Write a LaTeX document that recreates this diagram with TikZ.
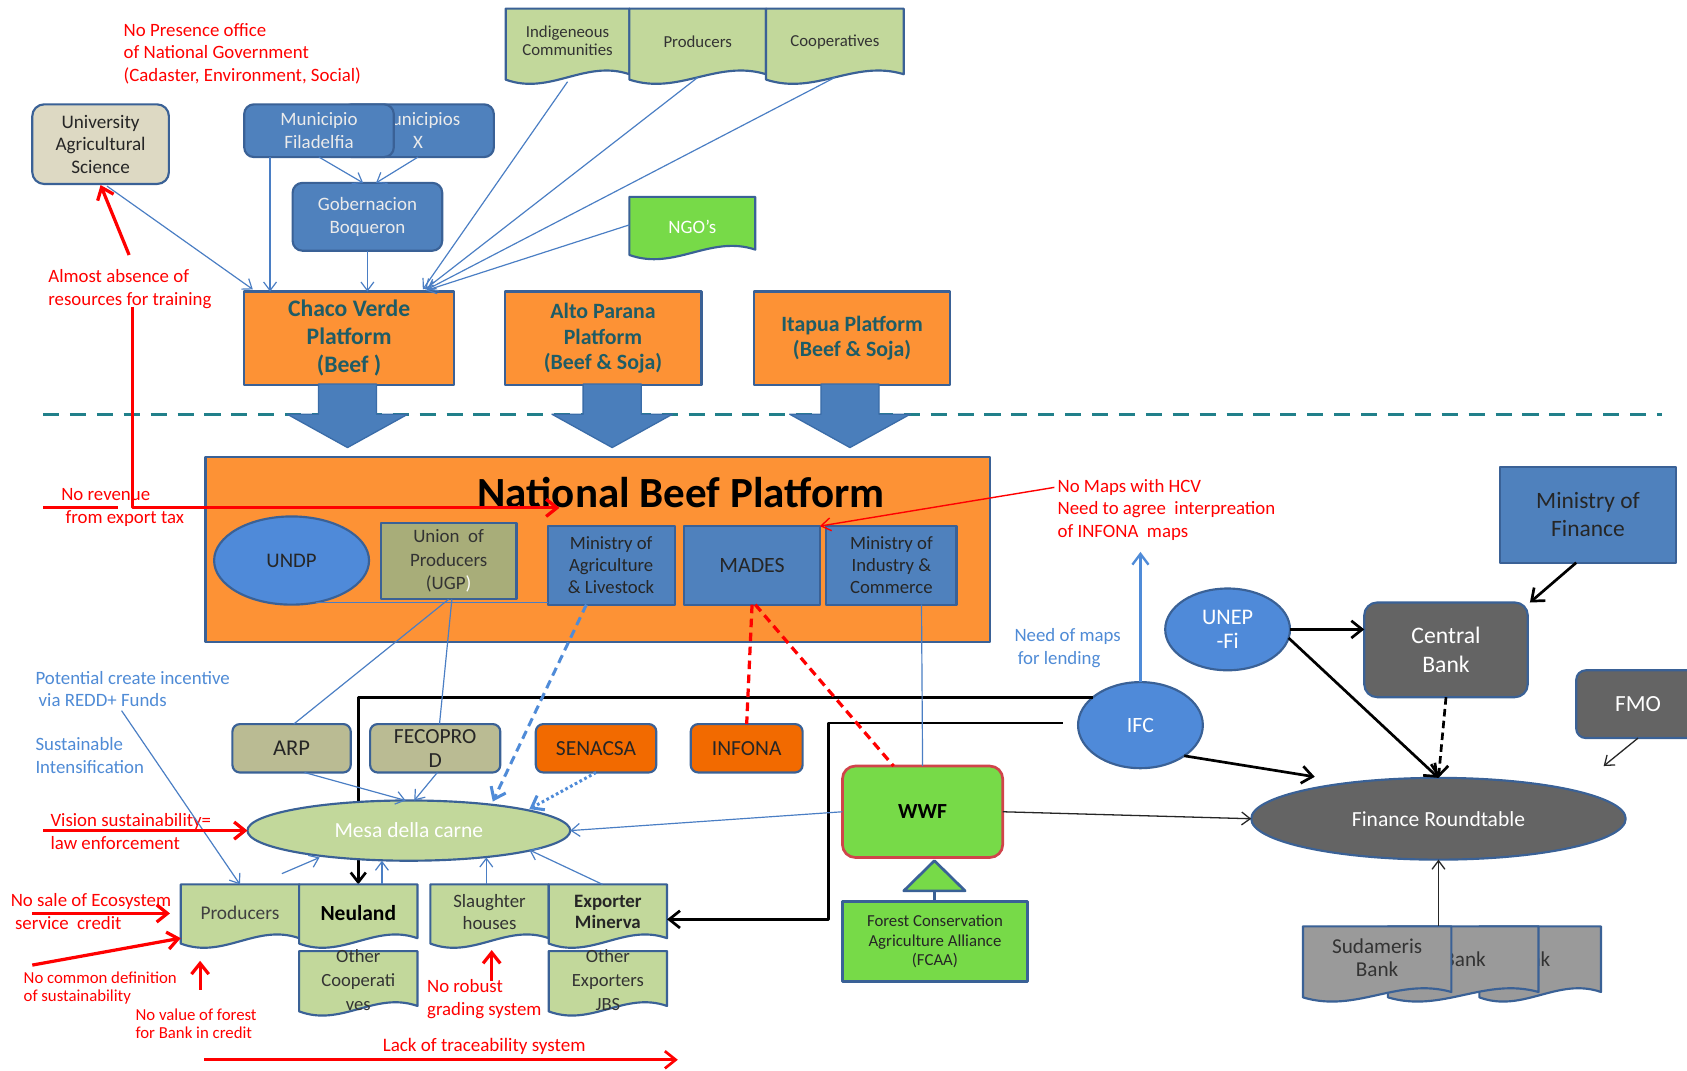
\documentclass[tikz,border=0pt]{standalone}
\usepackage{fontspec}
\setmainfont{Carlito}
\usetikzlibrary{arrows.meta,shapes.geometric,calc}
\definecolor{bdr}{HTML}{3A6196}
\definecolor{bboxf}{HTML}{4F81BD}
\definecolor{ellf}{HTML}{4F8AD9}
\definecolor{orgf}{HTML}{FD9235}
\definecolor{tealt}{HTML}{1E5C66}
\definecolor{docg}{HTML}{C2D89B}
\definecolor{ngog}{HTML}{77DA48}
\definecolor{olivef}{HTML}{A8AD79}
\definecolor{oliveg}{HTML}{BABB93}
\definecolor{senf}{HTML}{F26A00}
\definecolor{gry}{HTML}{646464}
\definecolor{lgry}{HTML}{9A9A9A}
\definecolor{rd}{HTML}{FF0000}
\definecolor{btxt}{HTML}{4F8BD6}
\definecolor{dashc}{HTML}{21808A}
\definecolor{beig}{HTML}{DDD9C3}
\definecolor{wwfb}{HTML}{D0444A}
\definecolor{bline}{HTML}{4A7EC4}
\definecolor{bline2}{HTML}{4F8BD8}
\definecolor{barrf}{HTML}{4A7EBB}
\definecolor{barrb}{HTML}{3A6CA8}
\newcommand\fsz[2]{\fontsize{#1}{#2}\selectfont}
\newcommand\docnode[8]{%
  \node[minimum width=#4, minimum height=#5] (#1) at (#2,#3) {};
  \filldraw[draw=bdr, line width=2, fill=#6]
    (#1.north west) -- (#1.north east) -- ($(#1.south east)+(0,-3)$)
    .. controls ($(#1.south)+({0.14*#4},-17)$) and ($(#1.south)+({-0.14*#4},17)$) .. ($(#1.south west)+(0,2)$) -- cycle;
  \node[#7] (#1t) at (#1) {#8};
}
\newcommand\blockarr[2]{%
  \filldraw[draw=barrb, fill=barrf, line width=1.2]
   ($(#1.south)+({#2-27},-1)$) -- ($(#1.south)+({#2+27},-1)$) -- ($(#1.south)+({#2+27},27)$) -- ($(#1.south)+({#2+56},27)$) -- ($(#1.south)+({#2},58)$) -- ($(#1.south)+({#2-56},27)$) -- ($(#1.south)+({#2-27},27)$) -- cycle;}
\begin{document}
\begin{tikzpicture}[x=1pt,y=-1pt, line join=round,
 every node/.style={inner sep=0pt,outer sep=0pt,align=center},
 rbox/.style={draw=bdr,line width=2,rounded corners=9},
 sbox/.style={draw=bdr,line width=2},
 ell/.style={ellipse,draw=bdr,line width=2},
 bl/.style={draw=bline,line width=1.1},
 bla/.style={bl,-{Straight Barb[length=8pt,width=12pt]}},
 rla/.style={draw=rd,line width=3,-{Straight Barb[length=10pt,width=16pt]}},
 kla/.style={draw=black,line width=2.5,-{Straight Barb[length=10pt,width=16pt]}},
 kthin/.style={draw=black!85,line width=1.2,-{Straight Barb[length=8pt,width=12pt]}},
 ann/.style={anchor=west,align=left,text=rd,font=\fsz{17.5}{21}},
 bann/.style={anchor=west,align=left,text=btxt,font=\fsz{17.5}{21}},
]
\useasboundingbox (0,0) rectangle (1568,995);
\fill[white] (0,0) rectangle (1568,995);

% ---------- top region ----------
\node[ann] (nopres) at (115,50) {No Presence office\\of National Government\\(Cadaster, Environment, Social)};
\node[rbox, rounded corners=11, fill=beig, minimum width=127, minimum height=74, font=\fsz{17.8}{21}, text=black!85] (univ) at (93.5,134) {University\\Agricultural\\Science};
\node[rbox, fill=bboxf, minimum width=141, minimum height=49, font=\fsz{17.6}{21}, text=white!92!black] (munx) at (388.5,121.5) {Municipios\\X};
\node[rbox, fill=bboxf, minimum width=139, minimum height=49, font=\fsz{17.6}{21}, text=white!92!black] (mun) at (296.5,121.5) {Municipio\\Filadelfia};
\node[rbox, fill=bboxf, minimum width=139, minimum height=63, font=\fsz{17.6}{21}, text=white!92!black] (gob) at (341.5,201.5) {Gobernacion\\Boqueron};

\docnode{indig}{527.5}{40}{115}{64}{docg}{font=\fsz{15.6}{17},text=black!80,yshift=2}{Indigeneous\\Communities}
\docnode{prodt}{648.5}{40}{127}{64}{docg}{font=\fsz{15.6}{17},text=black!80,yshift=1}{Producers}
\docnode{coop}{776}{40}{128}{64}{docg}{font=\fsz{15.6}{17},text=black!80,yshift=1}{Cooperatives}
\docnode{ngo}{643.5}{209}{117}{52}{ngog}{font=\fsz{17.6}{19},text=white,yshift=-2}{NGO’s}

\node[sbox, fill=orgf, minimum width=195, minimum height=87, font=\bfseries\fsz{22}{26}, text=tealt] (chaco) at (324.5,314.5) {Chaco Verde\\Platform\\(Beef )};
\node[sbox, fill=orgf, minimum width=183, minimum height=87, font=\bfseries\fsz{20.3}{23.5}, text=tealt] (alto) at (560.5,314.5) {Alto Parana\\Platform\\(Beef \& Soja)};
\node[sbox, fill=orgf, minimum width=182, minimum height=87, font=\bfseries\fsz{20.3}{23}, text=tealt] (itapua) at (792,314.5) {Itapua Platform\\(Beef \& Soja)};

% top connectors
\draw[bla] ($(univ.south)+(6,2)$) -- ($(chaco.north west)+(8,-2)$);
\draw[bla] ($(mun.south west)+(24,0)$) -- ($(chaco.north west)+(24,0)$);
\draw[bla] (gob.south) -- (gob.south |- chaco.north);
\draw[bla] (mun.south) -- ($(gob.north)+(-4,0)$);
\draw[bla] (munx.south) -- ($(gob.north)+(8,0)$);
\coordinate (cvin) at ($(chaco.north east)+(-29,-2)$);
\draw[bla] ($(indig.south)+(0,4)$) -- (cvin);
\draw[bla] (prodt.south) -- ($(cvin)+(2,0)$);
\draw[bla] (coop.south) -- ($(cvin)+(4,0)$);
\draw[bla] (ngo.west) -- ($(cvin)+(3,1)$);

% dashed separator and block arrows
\coordinate (dl0) at (40,385);
\coordinate (dl1) at (1545,385);
\draw[dashc, line width=3, dash pattern=on 15pt off 10pt] (dl0) -- (dl1);
\blockarr{chaco}{-1.5}
\blockarr{alto}{8.5}
\blockarr{itapua}{-2}

% ---------- national beef platform ----------
\node[sbox, fill=orgf, minimum width=729, minimum height=172] (nbp) at (555.5,511) {};
\node[font=\bfseries\fsz{40}{44}] (nbpt) at (633,458) {National Beef Platform};
\node[ell, fill=ellf, minimum width=144, minimum height=82, font=\fsz{19.3}{22}, text=black!85] (undp) at (271,521) {UNDP};
\node[sbox, fill=olivef, minimum width=126, minimum height=71, font=\fsz{17.6}{22}, text=black!80] (ugp) at (417,521.5) {Union~ of\\Producers\\(UGP\textcolor{white}{)}};
\node[sbox, fill=bboxf, minimum width=118, minimum height=73, font=\fsz{17.4}{20.5}, text=black!85] (minag) at (568,525.5) {Ministry of\\Agriculture\\\& Livestock};
\node[sbox, fill=bboxf, minimum width=126, minimum height=73, font=\fsz{20.3}{22}, text=black!85] (mades) at (699,525.5) {MADES};
\node[sbox, fill=bboxf, minimum width=121, minimum height=73, font=\fsz{17.4}{20.5}, text=black!85] (minind) at (828.5,525.5) {Ministry of\\Industry \&\\Commerce};
\draw[bl] (undp.-60) -- (undp.-60 -| minag.west);

% annotations left
\node[ann] (norev) at (57,471.5) {No revenue\\\hspace*{4pt}from export tax};
\node[ann] (almost) at (45,268.5) {Almost absence of\\resources for training};
\coordinate (rv0) at (123,285);
\coordinate (rv1) at (520,472);
\coordinate (rvl0) at (40,472);
\coordinate (rvl1) at (110,472);
\draw[draw=rd, line width=3] (rvl0) -- (rvl1);
\draw[rla] (rv0) |- (rv1);
\coordinate (al0) at (120,237);
\draw[rla] (al0) -- ($(univ.south)+(0,1)$);
\node[ann] (nomaps) at (983,474) {No Maps with HCV\\Need to agree~ interpreation\\of INFONA~ maps};
\draw[draw=rd, line width=1.3, -{Straight Barb[length=9pt,width=12pt]}] ($(nomaps.west)+(-3,-21)$) -- (mades.north east);

% ---------- right region ----------
\node[sbox, fill=bboxf, minimum width=164, minimum height=89, font=\fsz{21.8}{26}, text=black!85] (minfin) at (1476,478.5) {Ministry of\\Finance};
\node[ell, fill=ellf, minimum width=116, minimum height=76, font=\fsz{20.7}{22}, text=white] (unep) at (1141,585) {UNEP\\-Fi};
\node[rbox, rounded corners=12, fill=gry, minimum width=152, minimum height=88, font=\fsz{22}{27}, text=white] (central) at (1344,604) {Central\\Bank};
\node[rbox, fill=gry, minimum width=115, minimum height=63, font=\fsz{21.5}{22}, text=white] (fmo) at (1522.5,654.5) {FMO};
\node[ell, fill=ellf, minimum width=116, minimum height=80, font=\fsz{20.3}{22}, text=white] (ifc) at (1060,674) {IFC};
\node[bann] (needmaps) at (943,602.5) {Need of maps\\\hspace*{3pt}for lending};

% IFC black lines (under the nodes they pass)
\draw[draw=black, line width=2.5, -{Straight Barb[length=9pt,width=14pt]}] (ifc.150) -| ($(333,822)$) coordinate (neulin);
\coordinate (ifcl) at ($(ifc.west)+(-14,-2)$);

% ---------- middle region ----------
\node[rbox, rounded corners=7, fill=oliveg, minimum width=110, minimum height=45, font=\fsz{21}{22}, text=black!85] (arp) at (271,695.5) {ARP};
\node[rbox, rounded corners=7, fill=oliveg, minimum width=121, minimum height=45, font=\fsz{20}{22}, text=black!85] (fecop) at (404.5,695.5) {FECOPRO\\D};
\node[rbox, rounded corners=7, fill=senf, minimum width=112, minimum height=45, font=\fsz{20}{22}, text=black!85] (senacsa) at (554,695.5) {SENACSA};
\node[rbox, rounded corners=7, fill=senf, minimum width=104, minimum height=45, font=\fsz{20}{22}, text=black!85] (infona) at (694,695.5) {INFONA};
\node[draw=wwfb, line width=2.5, rounded corners=12, fill=ngog, minimum width=149, minimum height=85, font=\bfseries\fsz{20}{22}] (wwf) at (857.5,754.5) {WWF};
\node[sbox, line width=2.5, fill=ngog, minimum width=172, minimum height=74, font=\fsz{15.6}{18}, text=black!85] (fcaa) at (869,875) {Forest Conservation\\Agriculture Alliance\\(FCAA)};
\coordinate (trib) at (868.5,828);
\filldraw[draw=bdr, line width=2.5, fill=ngog] (840,828) -- (897,828) -- (868.5,800) -- cycle;
\draw[draw=bdr, line width=2.5] (fcaa.north -| trib) -- (trib);
\node[ell, fill=docg, minimum width=300, minimum height=56, font=\fsz{20}{22}, text=white] (mesa) at (380,772) {Mesa della carne};

\docnode{prodb}{223}{848.5}{110}{53}{docg}{font=\fsz{18}{20},text=black!75}{Producers}
\docnode{neul}{333}{848.5}{110}{53}{docg}{font=\bfseries\fsz{20}{22}}{Neuland}
\docnode{othc}{333}{911}{110}{54}{docg}{font=\fsz{17.3}{22},text=black!80}{Other\\Cooperati\\ves}
\docnode{slau}{455}{848.5}{110}{53}{docg}{font=\fsz{17.5}{20},text=black!80,yshift=1}{Slaughter\\houses}
\docnode{expm}{565}{848.5}{110}{53}{docg}{font=\bfseries\fsz{17.6}{20},text=black!85,yshift=1}{Exporter\\Minerva}
\docnode{othe}{565}{911}{110}{54}{docg}{font=\fsz{17.3}{22},text=black!80}{Other\\Exporters\\JBS}

% black line to Exporter Minerva
\draw[draw=black, line width=2.5, -{Straight Barb[length=10pt,width=16pt]}] (ifcl) -| ($(expm.east)+(150,6)$) -- ($(expm.east)+(0,6)$);

% finance roundtable and banks
\node[ell, fill=gry, minimum width=348, minimum height=76, font=\fsz{20}{22}, text=white] (frt) at (1337,761) {Finance Roundtable};
\docnode{sud3}{1431.5}{893}{113}{64}{lgry}{}{}
\node[font=\fsz{19.7}{22}, text=black!80, anchor=east] (sud3b) at (1441,892) {Bank};
\docnode{sud2}{1360}{893}{140}{64}{lgry}{}{}
\node[font=\fsz{19.7}{22}, text=black!80, anchor=east] (sud2b) at (1381,892) {Bank};
\docnode{sud1}{1280}{893}{138}{64}{lgry}{font=\fsz{19.7}{21},text=black!80,yshift=3}{Sudameris\\Bank}

% middle connectors
\draw[bl] (ugp.south) -- ($(arp.north)+(2,0)$);
\draw[bl] ($(ugp.south)+(3,0)$) -- ($(fecop.north)+(4,0)$);
\draw[bla] ($(arp.south)+(12,0)$) -- ($(mesa.north)+(-3,0)$);
\draw[bla] ($(fecop.south)+(2,0)$) -- ($(mesa.north)+(5,0)$);
\draw[draw=bline2, line width=2.8, dash pattern=on 8pt off 5pt, -{Straight Barb[length=10pt,width=15pt]}] ($(minag.south)+(-23,0)$) -- ($(mesa.north)+(78,1)$);
\draw[draw=bline2, line width=2.8, dash pattern=on 2.5pt off 2.5pt, -{Straight Barb[length=10pt,width=15pt]}] (senacsa.south) -- ($(mesa.north)+(112,8)$);
\draw[draw=rd, line width=3, dash pattern=on 8pt off 5pt] (mades.south) -- (infona.north);
\draw[draw=rd, line width=3, dash pattern=on 8pt off 5pt] ($(mades.south)+(3,0)$) -- ($(wwf.north)+(-27,0)$);
\draw[bl] ($(minind.south)+(28,0)$) -- (wwf.north);
\draw[bla] (wwf.west) -- (mesa.east);

% right connectors
\draw[draw=bline2, line width=2.2, -{Straight Barb[length=10pt,width=15pt]}] (ifc.north) -- ($(ifc.north)+(0,-121)$);
\draw[kla] (unep.east) -- (unep.east -| central.west);
\draw[kla] (unep.-8) -- (frt.north);
\draw[kla, dash pattern=on 7pt off 4pt] (central.south) -- (frt.north);
\draw[kla] ($(minfin.south)+(-11,0)$) -- ($(central.north east)+(2,0)$);
\draw[kthin] (fmo.south) -- ($(fmo.south)+(-32,26)$);
\draw[kla] (ifc.-35) -- ($(frt.west)+(59,-39)$);
\draw[kthin] (wwf.east) -- (frt.west);
\draw[kthin] (sud1.north -| frt.south) -- (frt.south);

% bottom-left annotations
\node[bann] (redd) at (33,640.5) {Potential create incentive\\\hspace*{3pt}via REDD+ Funds};
\node[bann] (sustint) at (33,702.5) {Sustainable\\Intensification};
\node[ann] (vision) at (47,773) {Vision sustainability=\\law enforcement};
\node[ann] (nosale) at (10,847) {No sale of Ecosystem\\\hspace*{4pt}service~ credit};
\node[ann, font=\fsz{15.6}{17}] (nocommon) at (22,918) {No common definition\\of sustainability};
\node[ann, font=\fsz{15.6}{17}] (novalue) at (126,951.5) {No value of forest\\for Bank in credit};
\node[ann] (norobust) at (397,928.5) {No robust\\grading system};
\node[text=rd, font=\fsz{17.7}{20}] (lack) at (450,973) {Lack of traceability system};

\draw[bla] ($(redd.west)+(80,20)$) -- (prodb.north);
\draw[bla] ($(prodb.north)+(39,-10)$) -- ($(mesa.south)+(-83,-3)$);
\draw[bla] ($(neul.north)+(22,0)$) -- ($(mesa.south)+(-25,0)$);
\draw[bla] ($(slau.north)+(-3,0)$) -- ($(mesa.south)+(72,-3)$);
\draw[bla] ($(expm.north)+(-5,0)$) -- ($(mesa.south)+(112,-10)$);

\draw[rla] ($(vision.west)+(-7,-1)$) -- (mesa.west);
\coordinate (ns0) at (30,849);
\draw[rla] (ns0) -- ($(prodb.west)+(-10,0.5)$);
\coordinate (nc0) at (30,897);
\draw[rla] (nc0) -- ($(prodb.south west)+(0,-3)$);
\coordinate (nv0) at (186,920);
\draw[rla] (nv0) -- ($(prodb.south west)+(18,18)$);
\coordinate (nr0) at (457,912);
\draw[rla] (nr0) -- ($(slau.south)+(2,8)$);
\coordinate (lk0) at (190,985);
\coordinate (lk1) at (630,985);
\draw[draw=rd, line width=2.5, -{Straight Barb[length=10pt,width=16pt]}] (lk0) -- (lk1);
\end{tikzpicture}
\end{document}
